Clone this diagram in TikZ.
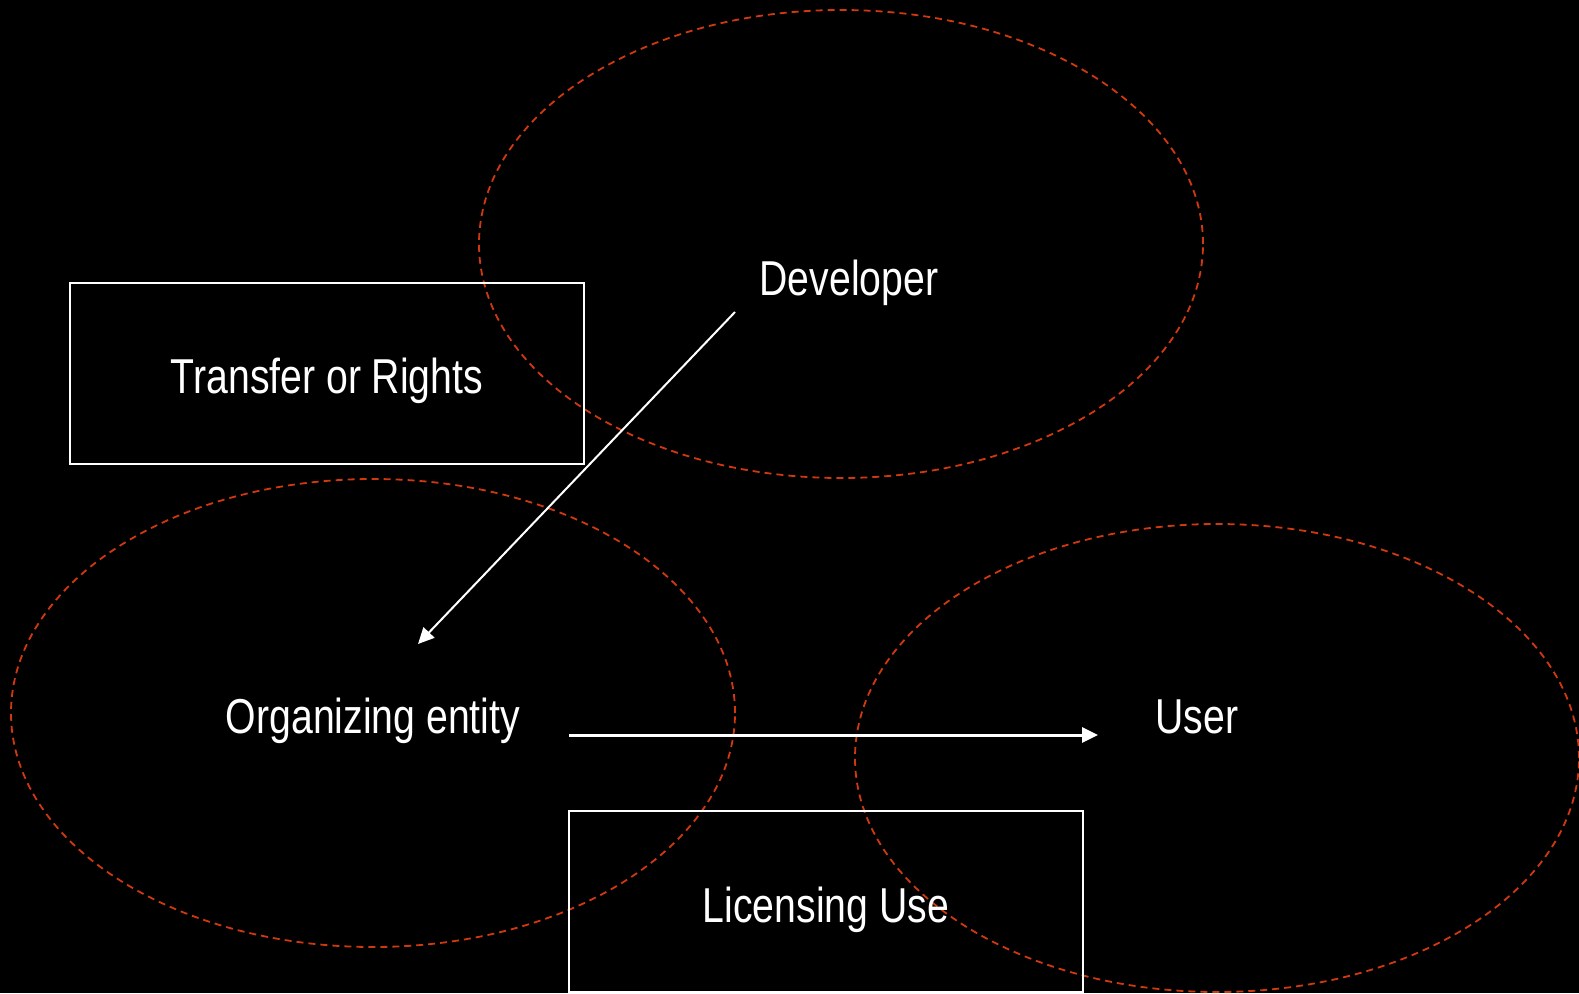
\documentclass[tikz,border=0pt]{standalone}
\usepackage{fontspec}
\setmainfont[FakeStretch=0.8]{Liberation Sans}
\usetikzlibrary{shapes.geometric,arrows.meta}
\definecolor{dashred}{HTML}{D0380F}
\tikzset{
  blob/.style={draw=dashred, line width=1.8pt, dash pattern=on 7pt off 5pt, ellipse, minimum width=724pt, minimum height=468pt, inner sep=0pt},
  boxnode/.style={draw=white, line width=2pt, inner sep=0pt},
  lbl/.style={text=white, font=\fontsize{49}{55}\selectfont, anchor=base, inner sep=0pt},
  conn/.style={draw=white, -{Triangle[length=16pt,width=15pt]}}
}
\begin{document}
\begin{tikzpicture}[x=1pt,y=-1pt]
\fill[black] (0,0) rectangle (1579,993);
\useasboundingbox (0,0) rectangle (1579,993);
\node[blob] (edev) at (841,244) {};
\node[blob] (eorg) at (373,713) {};
\node[blob] (euser) at (1217,758) {};
\node[boxnode, minimum width=514pt, minimum height=181pt] (transfer) at (327,373) {};
\node[boxnode, minimum width=514pt, minimum height=181pt] (licensing) at (826,901.5) {};
\node[lbl] (dev) at (849,295) {Developer};
\node[lbl] (trans) at (327,393) {Transfer or Rights};
\node[lbl] (org) at (373,733) {Organizing entity};
\node[lbl] (user) at (1197,733) {User};
\node[lbl] (lic) at (826,922) {Licensing Use};
\coordinate (a1) at (735,312);
\coordinate (a2) at (418,644);
\coordinate (b1) at (569,735);
\coordinate (b2) at (1098,735);
\draw[conn, line width=2pt] (a1) -- (a2);
\draw[conn, line width=3pt] (b1) -- (b2);
\end{tikzpicture}
\end{document}
